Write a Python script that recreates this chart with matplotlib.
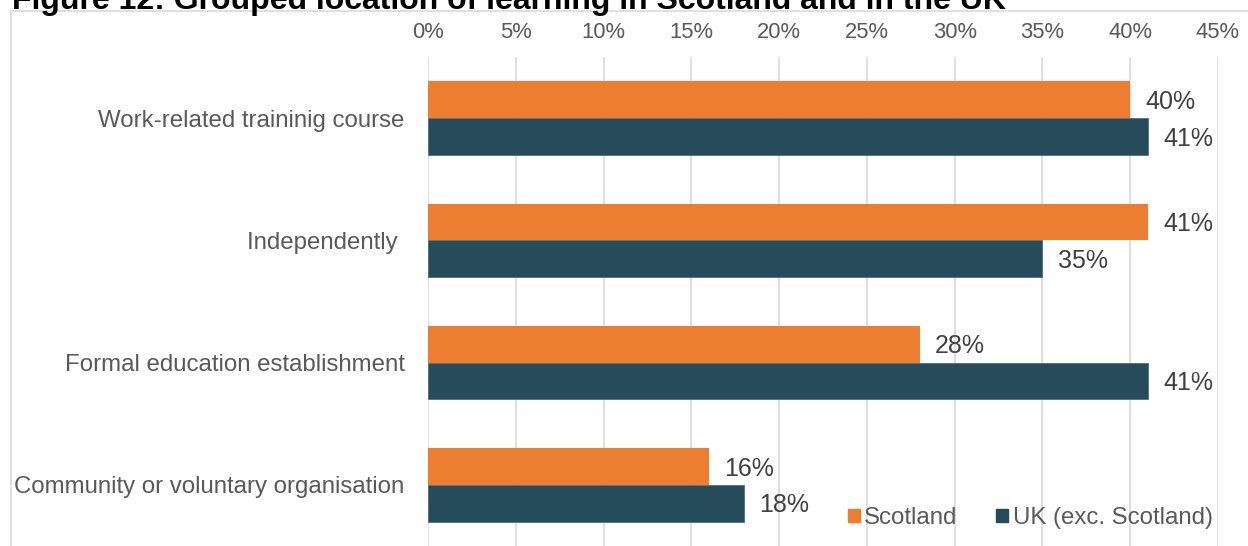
import matplotlib.pyplot as plt
import numpy as np
from matplotlib.lines import Line2D
from matplotlib.patches import Patch

plt.rcParams["font.family"] = "Liberation Sans"

# location of learning, share of learners (%)
categories = [
    "Work-related traininig course",
    "Independently ",
    "Formal education establishment",
    "Community or voluntary organisation",
]
scotland = [40, 41, 28, 16]
uk_exc_scotland = [41, 35, 41, 18]
xticks = [0, 5, 10, 15, 20, 25, 30, 35, 40, 45]

ORANGE = "#ED7D31"
TEAL = "#264B5A"
GREY_TXT = "#595959"
GRID = "#D9D9D9"

W, H = 1248, 546
fig = plt.figure(figsize=(W / 100, H / 100), dpi=100)
ax = fig.add_axes([428 / W, 0, (1218 - 428) / W, (H - 57) / H])

y = np.arange(len(categories))
bh = 0.3
ax.barh(y - bh / 2, scotland, height=bh, color=ORANGE, zorder=3)
ax.barh(y + bh / 2, uk_exc_scotland, height=bh, color=TEAL,
        edgecolor="#4F6F7C", linewidth=0.6, zorder=3)

for yy, v in zip(y - bh / 2, scotland):
    ax.annotate(f"{v}%", (v, yy), xytext=(11, -1.5), textcoords="offset points",
                va="center", ha="left", fontsize=18, color="#404040")
for yy, v in zip(y + bh / 2, uk_exc_scotland):
    ax.annotate(f"{v}%", (v, yy), xytext=(11, -1.5), textcoords="offset points",
                va="center", ha="left", fontsize=18, color="#404040")

ax.set_xlim(0, 45)
ax.set_ylim(3.5, -0.5)
ax.set_xticks(xticks)
ax.set_xticklabels([f"{t}%" for t in xticks], fontsize=15.8, color=GREY_TXT)
ax.xaxis.tick_top()
ax.tick_params(axis="x", length=0, pad=10)
ax.set_yticks(y)
ax.set_yticklabels(categories, fontsize=17.3, color=GREY_TXT)
ax.tick_params(axis="y", length=0, pad=17)
ax.grid(True, axis="x", color=GRID, lw=1.2, zorder=0)
for s in ax.spines.values():
    s.set_visible(False)

handles = [Patch(color=ORANGE, label="Scotland"),
           Patch(color=TEAL, label="UK (exc. Scotland)")]
fig.legend(handles=handles, loc="center right", bbox_to_anchor=(1213 / W, 1 - 518 / H),
           ncol=2, frameon=False, fontsize=17.3, labelcolor=GREY_TXT,
           handlelength=0.5, handleheight=0.5, handletextpad=0.2,
           columnspacing=1.6, borderaxespad=0, borderpad=0)

# chart-area border (top and left edges)
fig.add_artist(Line2D([11 / W, 1], [1 - 11 / H] * 2, color=GRID, lw=1.2))
fig.add_artist(Line2D([11 / W] * 2, [0, 1 - 11 / H], color=GRID, lw=1.2))

fig.text(12 / W, 1 - 9 / H, "Figure 12: Grouped location of learning in Scotland and in the UK",
         fontsize=23, fontweight="bold", va="baseline", ha="left")

fig.savefig("out.png", dpi=100)
